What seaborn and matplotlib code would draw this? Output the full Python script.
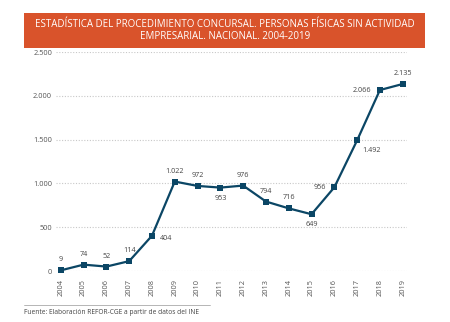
import matplotlib
matplotlib.use("Agg")
import matplotlib.pyplot as plt
import seaborn as sns
import pandas as pd
from matplotlib.patches import Rectangle
from matplotlib.lines import Line2D

years = [2004, 2005, 2006, 2007, 2008, 2009, 2010, 2011, 2012, 2013, 2014, 2015, 2016, 2017, 2018, 2019]
values = [9, 74, 52, 114, 404, 1022, 972, 953, 976, 794, 716, 649, 956, 1492, 2066, 2135]
labels = ["9", "74", "52", "114", "404", "1.022", "972", "953", "976", "794", "716", "649", "956", "1.492", "2.066", "2.135"]
label_pos = ["above", "above", "above", "above", "right", "above", "above", "below", "above", "above", "above", "below", "left", "rightbelow", "left", "above"]
yticks = [0, 500, 1000, 1500, 2000, 2500]
ytick_labels = ["0", "500", "1.000", "1.500", "2.000", "2.500"]
title = "ESTADÍSTICA DEL PROCEDIMIENTO CONCURSAL. PERSONAS FÍSICAS SIN ACTIVIDAD\nEMPRESARIAL. NACIONAL. 2004-2019"
source = "Fuente: Elaboración REFOR-CGE a partir de datos del INE"

sns.set_style("white")
plt.rcParams['font.family'] = ['Open Sans', 'DejaVu Sans']

df = pd.DataFrame({"year": years, "value": values})
navy = "#0B4665"
orange = "#D9532B"

fig = plt.figure(figsize=(4.5, 3.22), dpi=100)
ax = fig.add_axes([0.125, 0.158, 0.78, 0.6805])

sns.lineplot(data=df, x="year", y="value", ax=ax, color=navy, lw=1.6,
             marker="s", markersize=5, markeredgewidth=0, clip_on=False, zorder=3)

ax.set_xlim(2003.8, 2019.2)
ax.set_ylim(0, 2500)
ax.set_yticks(yticks)
ax.set_yticklabels(ytick_labels)
ax.set_xticks(years)
ax.set_xticklabels([str(y) for y in years], rotation=90)
ax.tick_params(axis="both", length=0, labelsize=5.3, colors="#555555", pad=3)
ax.tick_params(axis="x", pad=6)
for t in yticks:
    ax.axhline(t, color="#C8C8C8", lw=0.8, ls=(0, (1, 1.5)), zorder=1)
for s in ax.spines.values():
    s.set_visible(False)
ax.set_xlabel("")
ax.set_ylabel("")

offsets = {"above": (0, 5, "center", "bottom"),
           "below": (0, -5, "center", "top"),
           "right": (6, -2, "left", "center"),
           "left": (-6, 0, "right", "center"),
           "rightbelow": (4, -5, "left", "top")}
for x, y, lab, pos in zip(years, values, labels, label_pos):
    dx, dy, ha, va = offsets[pos]
    ax.annotate(lab, (x, y), xytext=(dx, dy), textcoords="offset points",
                ha=ha, va=va, fontsize=5.2, color="#444444")

fig.patches.append(Rectangle((24 / 450, 1 - 48 / 322), 401 / 450, 35 / 322,
                             transform=fig.transFigure, facecolor=orange,
                             edgecolor="none", zorder=0))
fig.text(225 / 450, 1 - 30.5 / 322, title, ha="center", va="center",
         color="white", fontsize=7.0, linespacing=1.2)

fig.lines.append(Line2D([24 / 450, 210 / 450], [1 - 305 / 322, 1 - 305 / 322],
                        transform=fig.transFigure, color="#AAAAAA", lw=0.6))
fig.text(24 / 450, 1 - 312 / 322, source, ha="left", va="center",
         fontsize=4.8, color="#444444")

fig.savefig("out.png", dpi=100)
